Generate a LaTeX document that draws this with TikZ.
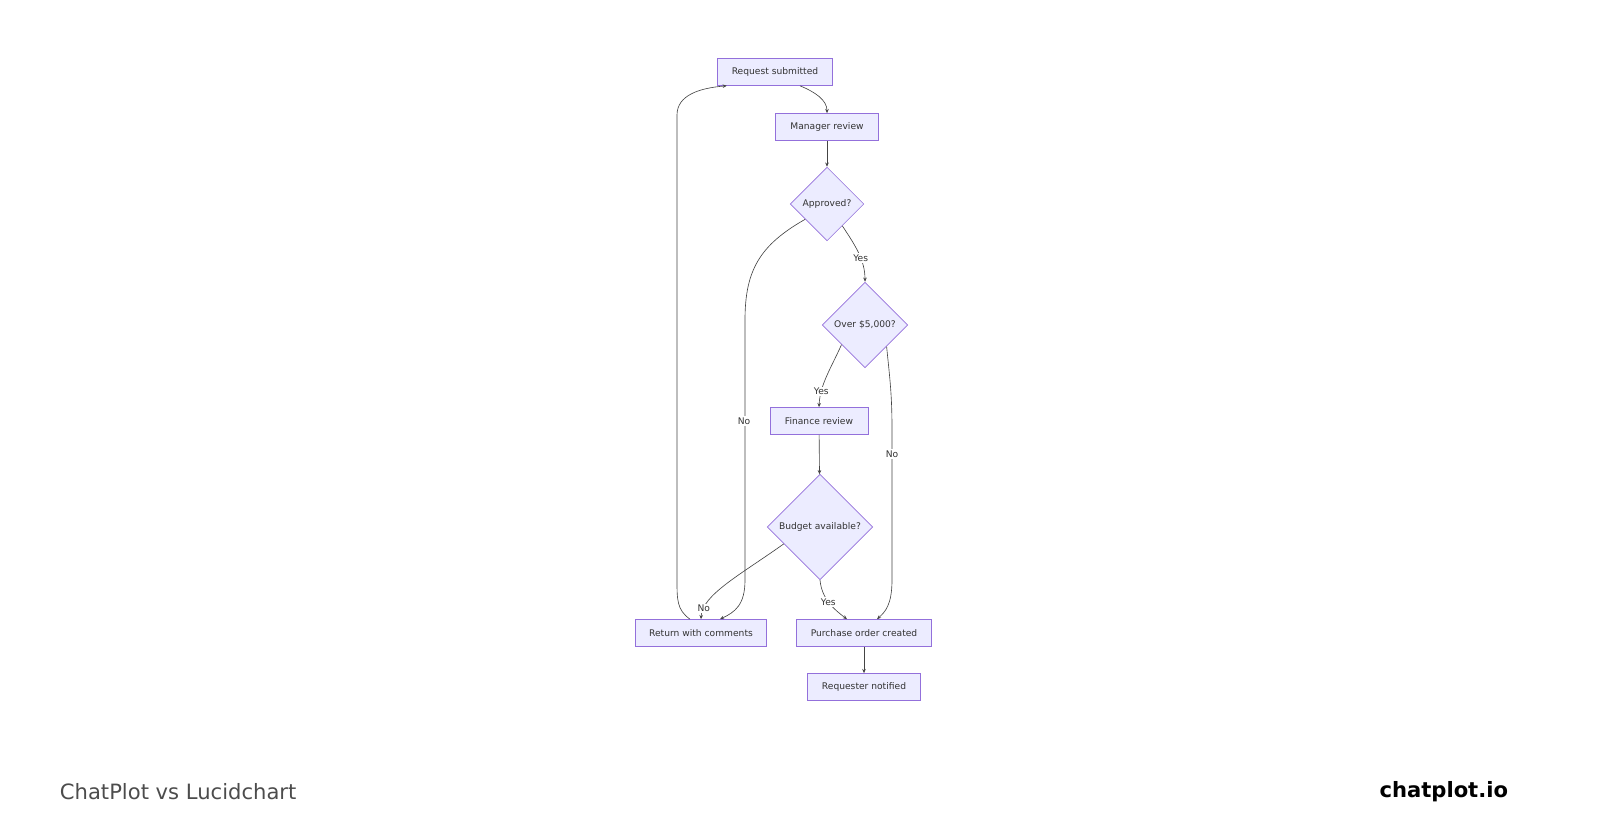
\documentclass[tikz,border=0pt]{standalone}
\usepackage{fontspec}
\setmainfont{DejaVu Sans}
\usetikzlibrary{shapes.geometric,arrows.meta,calc}

\tikzset{
  box/.style={draw=mmborder, fill=mmfill, line width=0.5pt, font=\fontsize{6.5}{8}\selectfont,
    minimum height=27*0.709pt, inner sep=2pt, text=black!80},
  dec/.style={draw=mmborder, fill=mmfill, line width=0.5pt, diamond, inner sep=0pt,
    font=\fontsize{6.5}{8}\selectfont, text=black!80},
  link/.style={draw=mmline, line width=0.45pt, -{Stealth[length=3pt,width=2.5pt]}},
  lbl/.style={font=\fontsize{6.5}{8}\selectfont, fill=white, inner sep=1pt, text=black!80}
}
\definecolor{mmfill}{HTML}{ECECFF}
\definecolor{mmborder}{HTML}{9370DB}
\definecolor{mmline}{HTML}{444444}

\begin{document}
\begin{tikzpicture}[x=0.025cm,y=-0.025cm]
		%frame
		\useasboundingbox (0,0) rectangle (1600,840);
		
		%steps
		\node[box, minimum width=116*0.709pt] (req) at (775,72) {Request submitted};
		\node[box, minimum width=103*0.709pt] (mgr) at (827,127) {Manager review};
		\node[dec, minimum size=74*0.709pt] (appr) at (827,204) {Approved?};
		\node[dec, minimum size=86*0.709pt] (over) at (865,325) {Over \$5,000?};
		\node[box, minimum width=98*0.709pt] (fin) at (819,421) {Finance review};
		\node[dec, minimum size=106*0.709pt] (budg) at (820,527) {Budget available?};
		\node[box, minimum width=132*0.709pt] (ret) at (701,633) {Return with comments};
		\node[box, minimum width=135*0.709pt] (po) at (864,633) {Purchase order created};
		\node[box, minimum width=113*0.709pt] (notif) at (864,687) {Requester notified};
		
		%links
		\draw[link] ($(req.south)+(25,0)$) .. controls (815,92) and (827,100) .. (mgr.north);
		\draw[link] (mgr) -- (appr);
		\draw[link] (appr.-55) .. controls (855,245) and (865,260) .. (over.north) node[lbl, pos=0.6] {Yes};
		\draw[link] (appr.-145) .. controls (760,245) and (745,270) .. (745,320) -- (745,580) .. controls (745,605) and (735,612) .. ($(ret.north)+(19,0)$);
		\node[lbl] (lno1) at (744,421) {No};
		\draw[link] (over.-45) .. controls (890,380) and (892,395) .. (892,430) -- (892,580) .. controls (892,605) and (885,612) .. ($(po.north)+(13,0)$);
		\node[lbl] (lno2) at (892,454) {No};
		\draw[link] (over.-140) .. controls (830,370) and (820,385) .. (fin.north) node[lbl, pos=0.75] {Yes};
		\draw[link] (fin) -- (budg);
		\draw[link] (budg.-155) .. controls (740,575) and (702,595) .. (ret.north) node[lbl, pos=0.85] {No};
		\draw[link] (budg.south) .. controls (822,600) and (835,610) .. ($(po.north)+(-17,0)$) node[lbl, pos=0.45] {Yes};
		\draw[link] (po) -- (notif);
		\draw[link] ($(ret.north)+(-11,0)$) .. controls (677,610) and (677,600) .. (677,580) -- (677,115) .. controls (677,95) and (700,88) .. ($(req.south west)+(10,0)$);
		
		%footer
		\node[anchor=west, text=black!70, font=\fontsize{15}{18}\selectfont] (ttl) at (55,792) {ChatPlot vs Lucidchart};
		\node[anchor=east, font=\fontsize{15}{18}\selectfont\bfseries] (brand) at (1513,792) {chatplot.io};
\end{tikzpicture}
\end{document}
